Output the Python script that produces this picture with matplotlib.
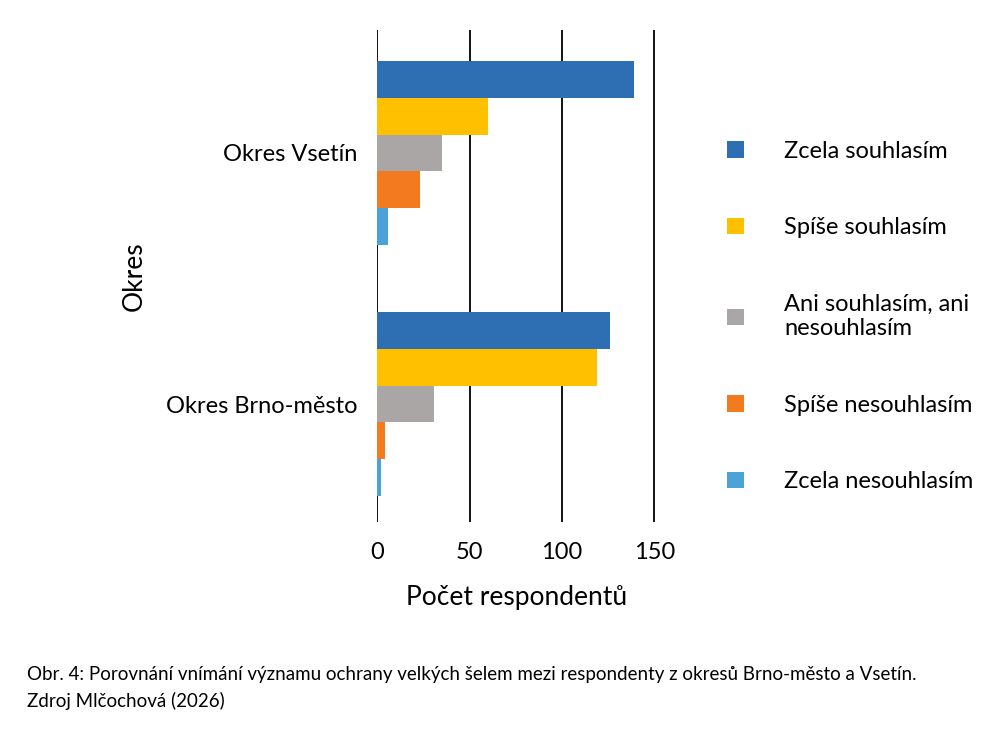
import numpy as np
import matplotlib.pyplot as plt

plt.rcParams['font.family'] = ['Lato', 'DejaVu Sans']

districts = ['Okres Vsetín', 'Okres Brno-město']
answers = ['Zcela souhlasím', 'Spíše souhlasím', 'Ani souhlasím, ani\nnesouhlasím',
           'Spíše nesouhlasím', 'Zcela nesouhlasím']
values = [
    [139, 126],
    [60, 119],
    [35, 31],
    [23, 4],
    [6, 2],
]
colors = ['#2e6fb4', '#ffc000', '#aba6a6', '#f47a20', '#4aa3d8']

fig = plt.figure(figsize=(10.06, 7.48), dpi=100)
ax = fig.add_axes([0.375, 0.302, 0.276, 0.658])

h = 0.146
centers = np.array([0, 1])
handles = []
for i, (vals, c) in enumerate(zip(values, colors)):
    y = centers + (i - 2) * h
    b = ax.barh(y, vals, height=h, color=c, label=answers[i], zorder=3)
    handles.append(b)

ax.set_ylim(1.47, -0.49)
ax.set_xlim(0, 150.4)
ax.set_xticks([0, 50, 100, 150])
ax.set_yticks(centers)
ax.set_yticklabels(districts)
ax.grid(axis='x', color='black', linewidth=1.3, zorder=0)
for s in ['top', 'right', 'bottom', 'left']:
    ax.spines[s].set_visible(False)
ax.tick_params(length=0, labelsize=17, pad=14)
ax.set_xlabel('Počet respondentů', fontsize=19, labelpad=16)
ax.set_ylabel('Okres', fontsize=19, labelpad=14)

fig.legend(handles=handles, loc='upper left', bbox_to_anchor=(0.702, 0.84),
           frameon=False, fontsize=17, labelspacing=2.35, handlelength=0.7,
           handleheight=0.7, handletextpad=1.7)

fig.text(0.027, 0.08, 'Obr. 4: Porovnání vnímání významu ochrany velkých šelem mezi respondenty z okresů Brno-město a Vsetín.\nZdroj Mlčochová (2026)',
         fontsize=13.5, linespacing=1.6, va='center')

fig.savefig('out.png', dpi=100)
